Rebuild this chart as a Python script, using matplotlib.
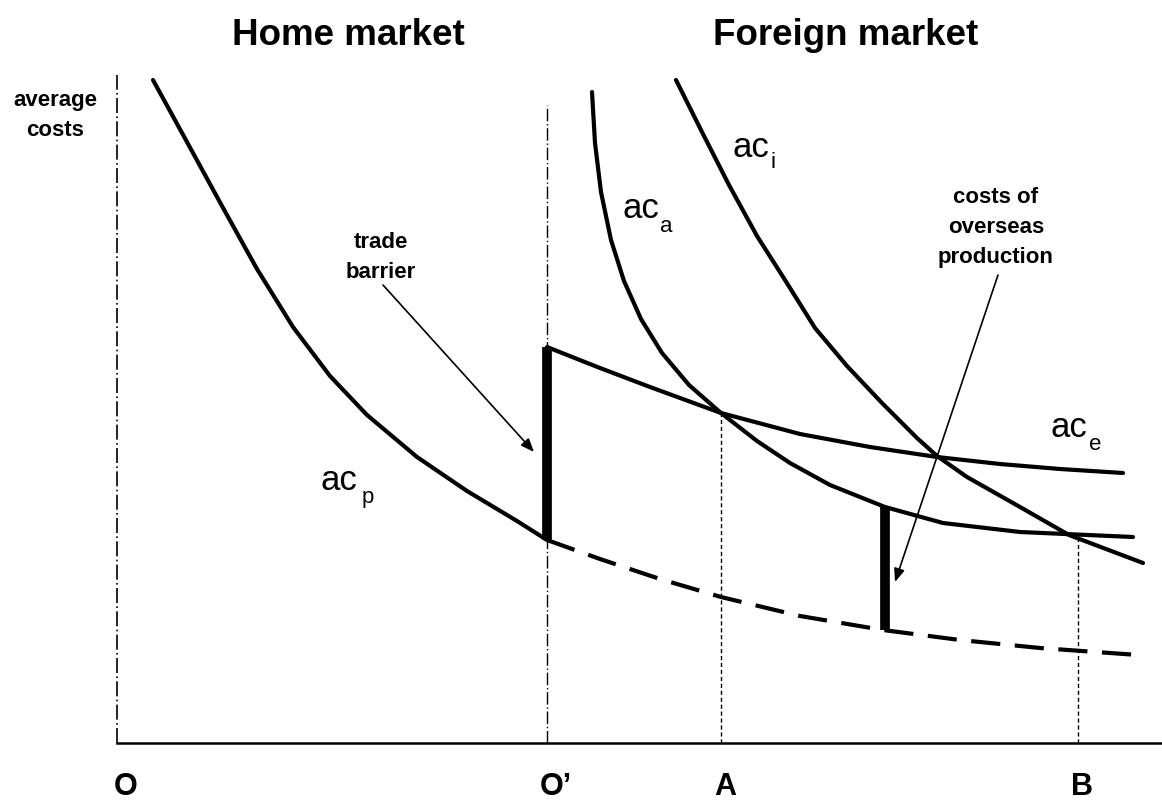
import matplotlib
matplotlib.use("Agg")
import matplotlib.pyplot as plt

plt.rcParams['font.family'] = ['Liberation Sans', 'DejaVu Sans']

# quantity (x) and average cost (y), origin at O
acp_q = [36, 70, 105, 140, 176, 213, 250, 300, 350, 400, 430]
acp_c = [663, 601, 537, 474, 416, 367, 328, 286, 252, 222, 203]

# ac_p continued into the foreign market (dashed)
acp_ext_q = [430, 483, 543, 604, 683, 766, 843, 923, 1021]
acp_ext_c = [203, 184, 164, 146, 127, 113, 103, 95, 88]

ace_q = [430, 483, 533, 604, 683, 753, 820, 883, 943, 1006]
ace_c = [396, 375, 356, 330, 309, 296, 286, 279, 274, 270]

aca_q = [475, 478, 484, 494, 507, 524, 545, 572, 604, 640, 673, 713, 768, 826, 903, 1016]
aca_c = [651, 600, 551, 503, 462, 424, 390, 358, 330, 302, 280, 258, 236, 220, 211, 206]

aci_q = [559, 586, 612, 640, 668, 698, 730, 765, 800, 820, 850, 903, 952, 1026]
aci_c = [663, 609, 558, 507, 463, 415, 377, 340, 305, 287, 266, 236, 208, 180]

# marked quantities on the x axis
tick_names = ["O", "O\u2019", "A", "B"]
tick_q = [0, 430, 604, 961]

# cost gaps: trade barrier at O', overseas production cost
barrier_q, barrier_lo, barrier_hi = 430, 203, 396
overseas_q, overseas_lo, overseas_hi = 768, 113, 236

fig = plt.figure(figsize=(11.62, 8.01), dpi=100)
ax = fig.add_axes([0, 0, 1, 1])
ax.set_xlim(-117, 1045)
ax.set_ylim(-58, 743)
ax.axis('off')

# axes and guide lines
ax.plot([0, 1045], [0, 0], color='k', lw=1.8)
ax.plot([0, 0], [0, 668], color='k', lw=1.2, linestyle=(0, (9, 2, 1, 2)))
ax.plot([tick_q[1], tick_q[1]], [0, 638], color='k', lw=1.0, linestyle=(0, (9, 2, 1, 2)))
ax.plot([tick_q[2], tick_q[2]], [0, 330], color='k', lw=1.0, linestyle=(0, (3, 2)))
ax.plot([tick_q[3], tick_q[3]], [0, 206], color='k', lw=1.0, linestyle=(0, (3, 2)))

# cost curves
curve = dict(color='k', lw=3.0, solid_capstyle='round', solid_joinstyle='round')
ax.plot(acp_q, acp_c, **curve)
ax.plot(acp_ext_q, acp_ext_c, color='k', lw=3.0, dashes=(7, 3.5))
ax.plot(ace_q, ace_c, **curve)
ax.plot(aca_q, aca_c, **curve)
ax.plot(aci_q, aci_c, **curve)

# thick bars
ax.plot([barrier_q, barrier_q], [barrier_lo, barrier_hi], color='k', lw=7, solid_capstyle='butt')
ax.plot([overseas_q, overseas_q], [overseas_lo, overseas_hi], color='k', lw=7, solid_capstyle='butt')

# arrows
arw = dict(arrowstyle='-|>,head_length=0.5,head_width=0.2', lw=1.2, color='k',
           mutation_scale=16, shrinkA=0, shrinkB=0)
ax.annotate('', xy=(417, 291), xytext=(266, 458), arrowprops=arw)
ax.annotate('', xy=(778, 161), xytext=(881, 468), arrowprops=arw)

# titles
ax.text(231, 698, "Home market", fontsize=26.5, fontweight='bold', ha='center', va='baseline')
ax.text(729, 698, "Foreign market", fontsize=26.5, fontweight='bold', ha='center', va='baseline')

# small notes
small = dict(fontsize=16, fontweight='bold', ha='center', va='baseline')
ax.text(-62, 637, "average", **small)
ax.text(-62, 607, "costs", **small)
ax.text(264, 495, "trade", **small)
ax.text(264, 465, "barrier", **small)
ax.text(879, 540, "costs of", **small)
ax.text(879, 510, "overseas", **small)
ax.text(879, 480, "production", **small)


def curve_label(q, c, sub, sq, sc):
    ax.text(q, c, "ac", fontsize=25, ha='left', va='baseline')
    ax.text(sq, sc, sub, fontsize=16, ha='left', va='baseline')


curve_label(615, 586, "i", 654, 575)
curve_label(505, 525, "a", 543, 511)
curve_label(204, 253, "p", 245, 240)
curve_label(933, 306, "e", 972, 293)

# x axis markers
for name, q in zip(tick_names, tick_q):
    if name == "O\u2019":
        ax.text(q - 7, -52, name, fontsize=22, fontweight='bold', ha='left', va='baseline')
    else:
        ax.text(q + 9 if q == 0 else q + 4, -52, name, fontsize=22, fontweight='bold',
                ha='center', va='baseline')

fig.savefig("out.png", dpi=100, facecolor='white')
